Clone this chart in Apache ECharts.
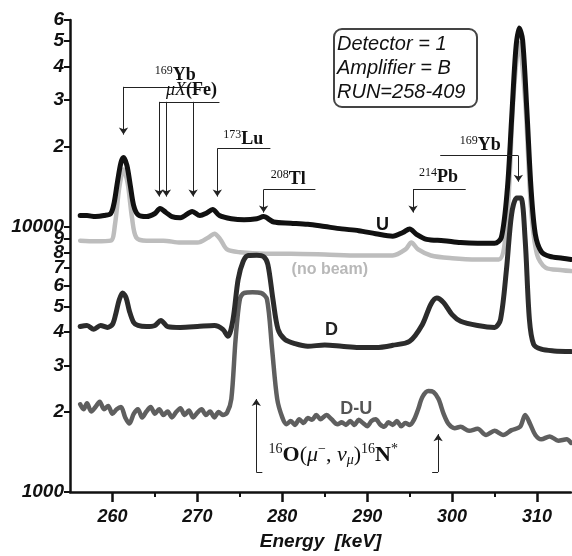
<!DOCTYPE html>
<html>
<head>
<meta charset="utf-8">
<script src="https://cdn.jsdelivr.net/npm/echarts@6/dist/echarts.min.js"></script>
<style>
  html, body { margin: 0; padding: 0; background: #fff; }
  #chart { width: 572px; height: 556px; }
</style>
</head>
<body>
<div id="chart"></div>
<script>
// energy [keV] vs counts
const curveU = [
  [256.2, 11000], [257.0, 11000], [258.0, 10900], [259.0, 11000], [259.8, 11200],
  [260.2, 12300], [260.6, 14800], [261.0, 17400], [261.3, 18200], [261.7, 17000],
  [262.1, 14300], [262.5, 12000], [263.0, 11100], [264.0, 10900], [265.0, 11200],
  [265.6, 11700], [266.3, 11300], [267.0, 10900], [268.0, 10800], [269.4, 11400],
  [270.3, 11000], [271.0, 11200], [271.8, 11600], [272.6, 11000], [274.0, 10700],
  [275.5, 10600], [277.0, 10700], [277.8, 10900], [279.0, 10400], [281.0, 10300],
  [283.0, 10200], [285.0, 10000], [287.0, 9800], [289.0, 9650], [291.0, 9400],
  [293.0, 9200], [294.2, 9500], [295.0, 9800], [295.8, 9350], [297.0, 8950],
  [299.0, 8850], [301.0, 8700], [303.0, 8650], [305.0, 8650], [305.8, 9100],
  [306.5, 13800], [307.0, 25200], [307.5, 46500], [307.9, 56000], [308.3, 50500],
  [308.8, 27500], [309.3, 13800], [309.8, 9350], [310.5, 8050], [311.5, 7720],
  [313.0, 7600], [314.0, 7520]
];
const curveNoBeam = [
  [256.2, 8850], [258.0, 8800], [259.8, 8850], [260.3, 10200], [260.8, 14000],
  [261.3, 16400], [261.8, 14500], [262.3, 10800], [262.8, 9100], [264.0, 8850],
  [266.0, 8850], [268.0, 8700], [270.0, 8700], [271.3, 9100], [272.0, 9400],
  [272.7, 8950], [273.5, 8200], [275.0, 8000], [278.0, 7900], [281.0, 7900],
  [285.0, 7850], [289.0, 7780], [293.0, 7780], [294.5, 8200], [295.2, 8700],
  [296.0, 8200], [297.5, 7780], [300.0, 7600], [303.0, 7520], [305.5, 7520],
  [306.5, 11100], [307.2, 30000], [307.9, 49000], [308.6, 30000], [309.3, 11600],
  [310.0, 7850], [311.0, 7000], [313.0, 6850], [314.0, 6800]
];
const curveD = [
  [256.2, 4200], [257.0, 4240], [257.8, 4100], [258.6, 4240], [259.4, 4170],
  [260.0, 4280], [260.4, 4700], [260.8, 5300], [261.2, 5620], [261.6, 5400],
  [262.0, 4800], [262.5, 4350], [263.0, 4240], [264.0, 4200], [265.0, 4240],
  [265.7, 4430], [266.5, 4200], [268.0, 4170], [270.0, 4200], [272.0, 4240],
  [273.0, 4100], [273.6, 3860], [274.2, 4470], [274.8, 6320], [275.4, 7400],
  [276.0, 7780], [277.0, 7800], [277.8, 7700], [278.3, 7200], [278.9, 5320],
  [279.5, 4100], [280.3, 3760], [281.5, 3620], [283.0, 3540], [285.0, 3580],
  [287.0, 3540], [289.0, 3500], [291.0, 3500], [293.0, 3570], [295.0, 3700],
  [296.5, 4280], [297.5, 5100], [298.2, 5380], [299.0, 5170], [300.0, 4660],
  [301.0, 4400], [303.0, 4240], [305.0, 4170], [305.7, 4470], [306.4, 6890],
  [307.0, 11100], [307.6, 12800], [308.1, 12800], [308.6, 8940], [309.1, 4470],
  [309.6, 3600], [310.5, 3450], [312.0, 3400], [314.0, 3380]
];
const curveDminusU = [
  [256.2, 2140], [256.6, 2050], [257.0, 2160], [257.5, 2010], [258.0, 2090],
  [258.5, 2190], [259.0, 2050], [259.5, 2110], [260.0, 1970], [260.5, 2050],
  [261.0, 2090], [261.5, 1910], [262.0, 1810], [262.5, 1970], [263.0, 2050],
  [263.5, 1910], [264.0, 2010], [264.5, 2090], [265.0, 1970], [265.5, 2050],
  [266.0, 1950], [266.5, 2010], [267.0, 1910], [267.5, 2000], [268.0, 2070],
  [268.5, 1950], [269.0, 2030], [269.5, 1910], [270.0, 1990], [270.5, 2050],
  [271.0, 1950], [271.5, 2010], [272.0, 1910], [272.5, 2000], [273.0, 1950],
  [273.5, 1990], [274.0, 2240], [274.5, 3760], [275.0, 5320], [275.5, 5620],
  [276.5, 5650], [277.5, 5620], [278.2, 5320], [278.8, 3450], [279.4, 2240],
  [280.0, 1910], [280.5, 1800], [281.0, 1850], [281.5, 1790], [282.0, 1880],
  [282.5, 1820], [283.0, 1900], [283.5, 1870], [284.0, 1950], [284.5, 1880],
  [285.2, 1950], [285.8, 1880], [286.5, 1800], [287.0, 1830], [287.5, 1790],
  [288.0, 1850], [288.5, 1790], [289.0, 1870], [289.5, 1820], [290.0, 1770],
  [290.5, 1850], [291.0, 1880], [291.5, 1800], [292.0, 1760], [292.5, 1830],
  [293.0, 1790], [293.5, 1850], [294.0, 1770], [294.5, 1820], [295.0, 1790],
  [295.5, 1870], [296.0, 2050], [296.5, 2280], [297.2, 2400], [297.8, 2380],
  [298.4, 2240], [299.0, 1970], [299.6, 1800], [300.3, 1740], [301.0, 1760],
  [302.0, 1700], [303.0, 1730], [304.0, 1640], [305.0, 1700], [306.0, 1640],
  [307.0, 1710], [308.0, 1760], [308.6, 1950], [309.2, 1800], [309.8, 1640],
  [310.5, 1580], [311.5, 1620], [312.5, 1560], [313.5, 1580], [314.0, 1530]
];

const xMajorTicks = [260, 270, 280, 290, 300, 310];
const xMinorTicks = [265, 275, 285, 295, 305];
const yTickValues = [1000, 2000, 3000, 4000, 5000, 6000, 7000, 8000, 9000,
  10000, 20000, 30000, 40000, 50000, 60000];
const yTickLabels = ['1000', '2', '3', '4', '5', '6', '7', '8', '9',
  '10000', '2', '3', '4', '5', '6'];
const boxLines = ['Detector = 1', 'Amplifier = B', 'RUN=258-409'];

const yLogTicks = yTickValues.map((v) => Math.log10(v));
const serif = "'Liberation Serif', 'DejaVu Serif', serif";
const sans = "'Liberation Sans', Arial, sans-serif";

const chart = echarts.init(document.getElementById('chart'));

// arrows / brackets of the nuclide annotations, in data coords
const seg = (a, b, arrow) => [
  { coord: a, symbol: 'none' },
  { coord: b, symbol: arrow ? 'arrow' : 'none' }
];
const guideLines = [
  seg([261.3, 33600], [270.9, 33600]), seg([261.3, 33600], [261.3, 22200], true),
  seg([265.5, 29500], [272.6, 29500]), seg([265.5, 29500], [265.5, 12970], true),
  seg([266.35, 29500], [266.35, 12970], true), seg([269.5, 29500], [269.5, 12970], true),
  seg([272.35, 19650], [278.6, 19650]), seg([272.35, 19650], [272.35, 12970], true),
  seg([277.8, 13780], [283.9, 13780]), seg([277.8, 13780], [277.8, 11290], true),
  seg([295.4, 13780], [301.6, 13780]), seg([295.4, 13780], [295.4, 11290], true),
  seg([298.6, 18490], [307.8, 18490]), seg([307.8, 18490], [307.8, 14760], true),
  seg([276.94, 1190], [276.94, 2240], true), seg([276.94, 1190], [277.65, 1190]),
  seg([298.35, 1190], [298.35, 1652], true), seg([297.65, 1190], [298.35, 1190])
];

const rich = {
  sup: { fontFamily: serif, fontSize: 12, lineHeight: 12, verticalAlign: 'top', color: '#111' },
  el: { fontFamily: serif, fontSize: 18, fontWeight: 'bold', lineHeight: 21, color: '#111' },
  rm: { fontFamily: serif, fontSize: 18, lineHeight: 21, color: '#111' },
  mi: { fontFamily: serif, fontSize: 18, fontStyle: 'italic', lineHeight: 21, color: '#111' },
  bsup: { fontFamily: serif, fontSize: 14, lineHeight: 14, verticalAlign: 'top', color: '#111' },
  bel: { fontFamily: serif, fontSize: 22, fontWeight: 'bold', lineHeight: 25, color: '#111' },
  brm: { fontFamily: serif, fontSize: 22, lineHeight: 25, color: '#111' },
  bmi: { fontFamily: serif, fontSize: 22, fontStyle: 'italic', lineHeight: 25, color: '#111' },
  bsub: { fontFamily: serif, fontSize: 14, fontStyle: 'italic', lineHeight: 14, verticalAlign: 'bottom', color: '#111' }
};
const note = (coord, text, style) => ({
  coord,
  value: 0,
  label: Object.assign({ formatter: text }, style || {})
});
const curveLabel = (color, size) => ({
  fontFamily: sans, fontWeight: 'bold', fontSize: size, color, rich: {}
});
const notes = [
  note([267.4, 36980], '{sup|169}{el|Yb}'),
  note([269.3, 32600], '{mi|μX}{el|(Fe)}'),
  note([275.4, 21240], '{sup|173}{el|Lu}'),
  note([280.7, 15020], '{sup|208}{el|Tl}'),
  note([298.4, 15280], '{sup|214}{el|Pb}'),
  note([303.3, 20160], '{sup|169}{el|Yb}'),
  note([286.0, 1380],
    '{bsup|16}{bel|O}{brm|(}{bmi|μ}{bsup|−}{brm|, }{bmi|ν}{bsub|μ}{brm|)}{bsup|16}{bel|N}{bsup|*}'),
  note([291.8, 10090], 'U', curveLabel('#111', 18)),
  note([285.6, 6890], '(no beam)', curveLabel('#b8b8b8', 16)),
  note([285.8, 4064], 'D', curveLabel('#222', 18)),
  note([288.7, 2050], 'D-U', curveLabel('#555', 18))
];

const lineSeries = (name, data, color, width) => ({
  name,
  type: 'line',
  data,
  xAxisIndex: 0,
  yAxisIndex: 0,
  showSymbol: false,
  smooth: 0.3,
  lineStyle: { color, width, cap: 'round', join: 'round' },
  silent: true
});

const option = {
  animation: false,
  backgroundColor: '#fff',
  grid: { left: 70, right: 1, top: 20, bottom: 63 },
  xAxis: [
    {
      type: 'value',
      position: 'bottom',
      min: 255,
      max: 314,
      name: 'Energy  [keV]',
      nameLocation: 'middle',
      nameGap: 40,
      nameTextStyle: { fontFamily: sans, fontSize: 19, fontWeight: 'bold', fontStyle: 'italic', color: '#111' },
      axisLine: { lineStyle: { color: '#111', width: 2.5 } },
      axisTick: { customValues: xMajorTicks, length: 10, lineStyle: { color: '#111', width: 2.5 } },
      axisLabel: {
        customValues: xMajorTicks,
        margin: 16,
        fontFamily: sans, fontSize: 18, fontWeight: 'bold', fontStyle: 'italic', color: '#111'
      },
      splitLine: { show: false }
    },
    {
      type: 'value',
      position: 'bottom',
      min: 255,
      max: 314,
      axisLine: { show: false },
      axisTick: { customValues: xMinorTicks, length: 5, lineStyle: { color: '#111', width: 2 } },
      axisLabel: { show: false },
      splitLine: { show: false }
    }
  ],
  yAxis: [
    {
      type: 'log',
      logBase: 10,
      position: 'left',
      min: 1000,
      max: 60000,
      axisLine: { show: true, lineStyle: { color: '#111', width: 2.5 } },
      axisTick: { show: false },
      axisLabel: { show: false },
      splitLine: { show: false },
      minorTick: { show: false }
    },
    {
      // decade sub-ticks 2..9 labelled like the original
      type: 'value',
      position: 'left',
      min: 3,
      max: Math.log10(60000),
      axisLine: { show: false },
      axisTick: { customValues: yLogTicks, length: 6, lineStyle: { color: '#111', width: 2 } },
      axisLabel: {
        customValues: yLogTicks,
        margin: 6,
        fontFamily: sans, fontSize: 19, fontWeight: 'bold', fontStyle: 'italic', color: '#111',
        formatter: (v) => {
          const i = yLogTicks.findIndex((t) => Math.abs(t - v) < 1e-6);
          return i >= 0 ? yTickLabels[i] : '';
        }
      },
      splitLine: { show: false }
    }
  ],
  graphic: [
    {
      type: 'rect',
      left: 333,
      top: 28,
      shape: { width: 143, height: 78, r: 8 },
      style: { fill: '#fff', stroke: '#444', lineWidth: 2 },
      z: 10
    },
    {
      type: 'text',
      left: 337,
      top: 32,
      style: {
        text: boxLines.join('\n'),
        width: 135,
        align: 'center',
        fontFamily: sans, fontSize: 20, fontStyle: 'italic', lineHeight: 24, fill: '#111'
      },
      z: 11
    }
  ],
  series: [
    lineSeries('no beam', curveNoBeam, '#bdbdbd', 4.5),
    lineSeries('U', curveU, '#111', 5),
    lineSeries('D-U', curveDminusU, '#5f5f5f', 4.5),
    lineSeries('D', curveD, '#2c2c2c', 5),
    {
      name: 'notes',
      type: 'line',
      data: [],
      xAxisIndex: 0,
      yAxisIndex: 0,
      silent: true,
      markLine: {
        silent: true,
        animation: false,
        symbolSize: 7,
        label: { show: false },
        lineStyle: { color: '#222', width: 1, type: 'solid' },
        emphasis: { disabled: true },
        data: guideLines
      },
      markPoint: {
        silent: true,
        animation: false,
        symbol: 'rect',
        symbolSize: 1,
        itemStyle: { color: 'rgba(0,0,0,0)' },
        label: { show: true, position: 'inside', rich },
        data: notes
      }
    }
  ]
};

chart.setOption(option);
</script>
</body>
</html>
